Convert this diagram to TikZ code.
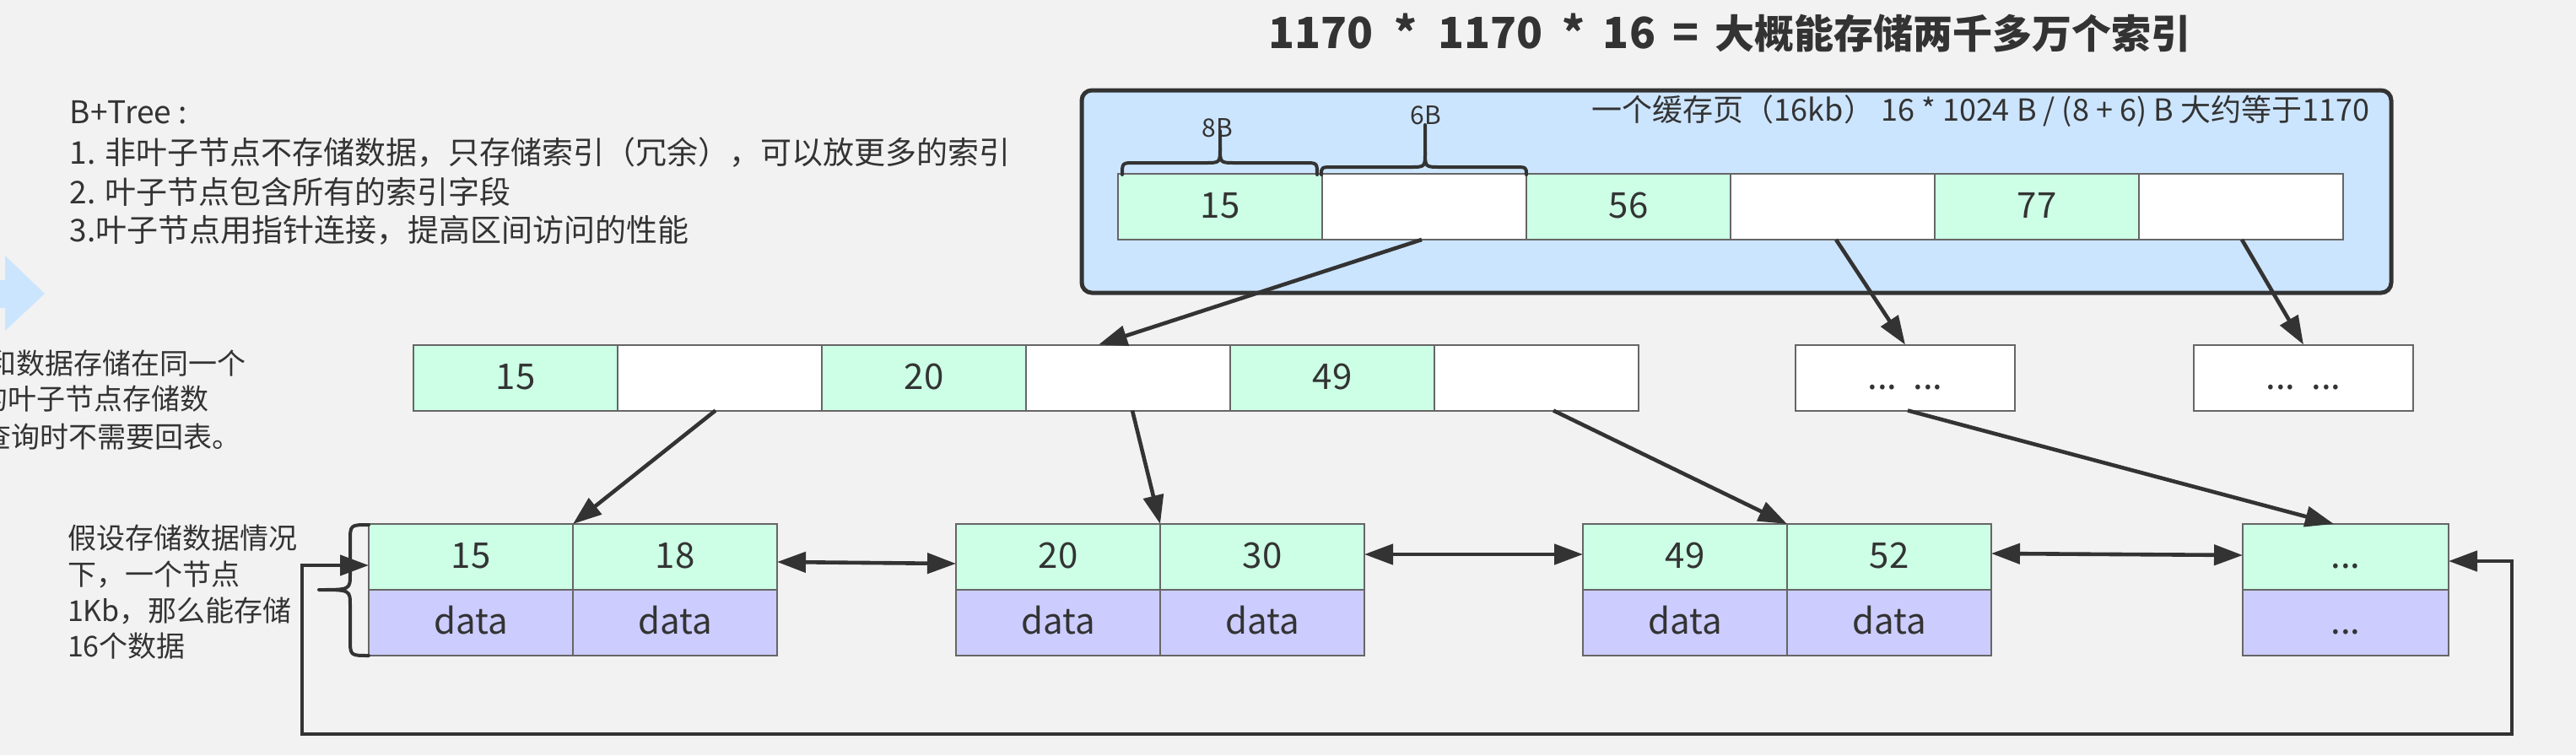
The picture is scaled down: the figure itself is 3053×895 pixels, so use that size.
\documentclass[tikz,border=0pt]{standalone}
\usepackage{fontspec}
\setmainfont{Noto Sans CJK SC}
\usetikzlibrary{arrows.meta,calc}
\definecolor{bgc}{HTML}{F2F2F2}
\definecolor{dk}{HTML}{333333}
\definecolor{gc}{HTML}{CCFFE6}
\definecolor{pc}{HTML}{CCCCFF}
\definecolor{bc}{HTML}{CCE5FF}
\definecolor{lc}{HTML}{666666}
\begin{document}
\begin{tikzpicture}[x=0.5pt,y=-0.5pt,
  >={Triangle[length=17pt,width=12pt]},
  cell/.style={draw=lc, line width=1pt, minimum width=121pt, minimum height=39pt, inner sep=0pt, outer sep=0pt, text=dk, font=\fontsize{21}{25}\selectfont, text height=16.8pt, text depth=2.9pt},
  gcell/.style={cell, fill=gc},
  wcell/.style={cell, fill=white},
  pcell/.style={cell, fill=pc},
  arr/.style={draw=dk, line width=2.3pt, ->},
  dbl/.style={draw=dk, line width=2.3pt, <->},
  brace/.style={draw=dk, line width=2pt, line cap=round, line join=round},
  lbl/.style={inner sep=0pt, outer sep=0pt, text=dk}]
\useasboundingbox (0,0) rectangle (3053,895);
\clip (0,0) rectangle (3053,895);
\fill[bgc] (0,0) rectangle (3053,895);

% light blue block arrow at the left edge
\fill[bc] (-10,332) -- (6,332) -- (6,303) -- (53,348) -- (6,392) -- (6,365) -- (-10,365) -- cycle;

% title
\node[lbl, anchor=base west, font=\fontsize{25.5}{30}\selectfont\bfseries] (title) at (1503,57)
  {\rlap{1170}\hspace{81.5pt}\makebox[0pt]{*}\hspace{19pt}\rlap{1170}\hspace{80.5pt}\makebox[0pt]{*}\hspace{17.5pt}\rlap{16}\hspace{49pt}\makebox[0pt]{=}\hspace{17pt}{\fontsize{23.5}{28}\selectfont 大概能存储两千多万个索引}};

% description text
\node[lbl, anchor=base west, font=\fontsize{18.5}{23}\selectfont] (d0) at (83,146) {B+Tree :};
\node[lbl, anchor=base west, font=\fontsize{18.5}{23}\selectfont] (d1) at (83,194) {1. 非叶子节点不存储数据，只存储索引（冗余），可以放更多的索引};
\node[lbl, anchor=base west, font=\fontsize{18.5}{23}\selectfont] (d2) at (83,241) {2. 叶子节点包含所有的索引字段};
\node[lbl, anchor=base west, font=\fontsize{18.5}{23}\selectfont] (d3) at (83,286) {3.叶子节点用指针连接，提高区间访问的性能};

% cut-off text at left
\node[lbl, anchor=base east, font=\fontsize{17}{21}\selectfont] (c1) at (292,443) {和数据存储在同一个};
\node[lbl, anchor=base east, font=\fontsize{17}{21}\selectfont] (c2) at (247,485) {的叶子节点存储数};
\node[lbl, anchor=base east, font=\fontsize{17}{21}\selectfont] (c3) at (286,530) {查询时不需要回表。};

% leaf note
\node[lbl, anchor=base west, font=\fontsize{17}{21}\selectfont] (n1) at (80,650) {假设存储数据情况};
\node[lbl, anchor=base west, font=\fontsize{17}{21}\selectfont] (n2) at (80,693) {下，一个节点};
\node[lbl, anchor=base west, font=\fontsize{17}{21}\selectfont] (n3) at (80,736) {1Kb，那么能存储};
\node[lbl, anchor=base west, font=\fontsize{17}{21}\selectfont] (n4) at (80,778) {16个数据};

% cache page box
\node[draw=dk, fill=bc, line width=2.5pt, rounded corners=6pt, minimum width=776pt, minimum height=120pt, inner sep=0pt] (page) at (2058,227) {};
\node[lbl, anchor=base east, font=\fontsize{18}{22}\selectfont] (pagelbl) at (2808,143) {一个缓存页（16kb） 16 * 1024 B / (8 + 6) B 大约等于1170};

% root row
\node[gcell] (r1) at (1446,245) {15};
\node[wcell] (r2) at (1688,245) {};
\node[gcell] (r3) at (1930,245) {56};
\node[wcell] (r4) at (2172,245) {};
\node[gcell] (r5) at (2414,245) {77};
\node[wcell] (r6) at (2656,245) {};

% braces over root cells
\node[lbl, anchor=base, font=\fontsize{15}{18}\selectfont] (b8) at (1443,162) {8B};
\node[lbl, anchor=base, font=\fontsize{15}{18}\selectfont] (b6) at (1690,147) {6B};
\draw[brace] (1330,207) .. controls (1330,193) .. (1345,193) -- (1428,193) .. controls (1446,193) .. (1446,175) -- (1446,155);
\draw[brace] (1561,207) .. controls (1561,193) .. (1546,193) -- (1464,193) .. controls (1446,193) .. (1446,175);
\draw[brace] (1566,207) .. controls (1566,198) .. (1581,198) -- (1671,198) .. controls (1689,198) .. (1689,180) -- (1689,148);
\draw[brace] (1809,207) .. controls (1809,198) .. (1794,198) -- (1707,198) .. controls (1689,198) .. (1689,180);

% middle row
\node[gcell] (m1) at (611,447.5) {15};
\node[wcell] (m2) at (853,447.5) {};
\node[gcell] (m3) at (1095,447.5) {20};
\node[wcell] (m4) at (1337,447.5) {};
\node[gcell] (m5) at (1579,447.5) {49};
\node[wcell] (m6) at (1821,447.5) {};
\node[wcell, minimum width=130pt] (b1) at (2258,447.5) {...\ \ ...};
\node[wcell, minimum width=130pt] (b2) at (2730,447.5) {...\ \ ...};

% leaves
\node[gcell] (l1a) at (558,660) {15};
\node[gcell] (l1b) at (800,660) {18};
\node[pcell] (l1c) at (558,738) {data};
\node[pcell] (l1d) at (800,738) {data};
\node[gcell] (l2a) at (1254,660) {20};
\node[gcell] (l2b) at (1496,660) {30};
\node[pcell] (l2c) at (1254,738) {data};
\node[pcell] (l2d) at (1496,738) {data};
\node[gcell] (l3a) at (1997,660) {49};
\node[gcell] (l3b) at (2239,660) {52};
\node[pcell] (l3c) at (1997,738) {data};
\node[pcell] (l3d) at (2239,738) {data};
\node[gcell, minimum width=122pt] (l4a) at (2780,660) {...};
\node[pcell, minimum width=122pt] (l4b) at (2780,738) {...};

% brace left of first leaf
\draw[brace] (437,622) .. controls (415,622) .. (415,642) -- (415,680) .. controls (415,699) .. (378,699) .. controls (415,699) .. (415,718) -- (415,757) .. controls (415,777) .. (437,777);

% pointers
\draw[arr] ($(r2.south)+(-3,0)$) -- ($(m4.north)+(-35,0)$);
\draw[arr] ($(r4.south)+(4,0)$) -- (b1.north);
\draw[arr] ($(r6.south)+(1,0)$) -- (b2.north);
\draw[arr] ($(m2.south)+(-5,0)$) -- (l1a.north east);
\draw[arr] ($(m4.south)+(5,0)$) -- (l2a.north east);
\draw[arr] ($(m6.south)+(20,0)$) -- (l3a.north east);
\draw[arr] ($(b1.south)+(3,0)$) -- ($(l4a.north)+(-14,0)$);

% leaf links
\draw[dbl] ($(l1b.east)+(0,6)$) -- ($(l2a.west)+(0,8)$);
\draw[dbl] ($(l2b.east)+(0,-3)$) -- ($(l3a.west)+(0,-3)$);
\draw[dbl] ($(l3b.east)+(0,-4)$) -- ($(l4a.west)+(0,-2)$);

% loop link
\coordinate (lpL) at (358,870);
\coordinate (lpR) at (2977,870);
\draw[dbl] ($(l1a.west)+(0,10)$) -| (lpL) -- (lpR) |- ($(l4a.east)+(0,5)$);
\end{tikzpicture}
\end{document}
